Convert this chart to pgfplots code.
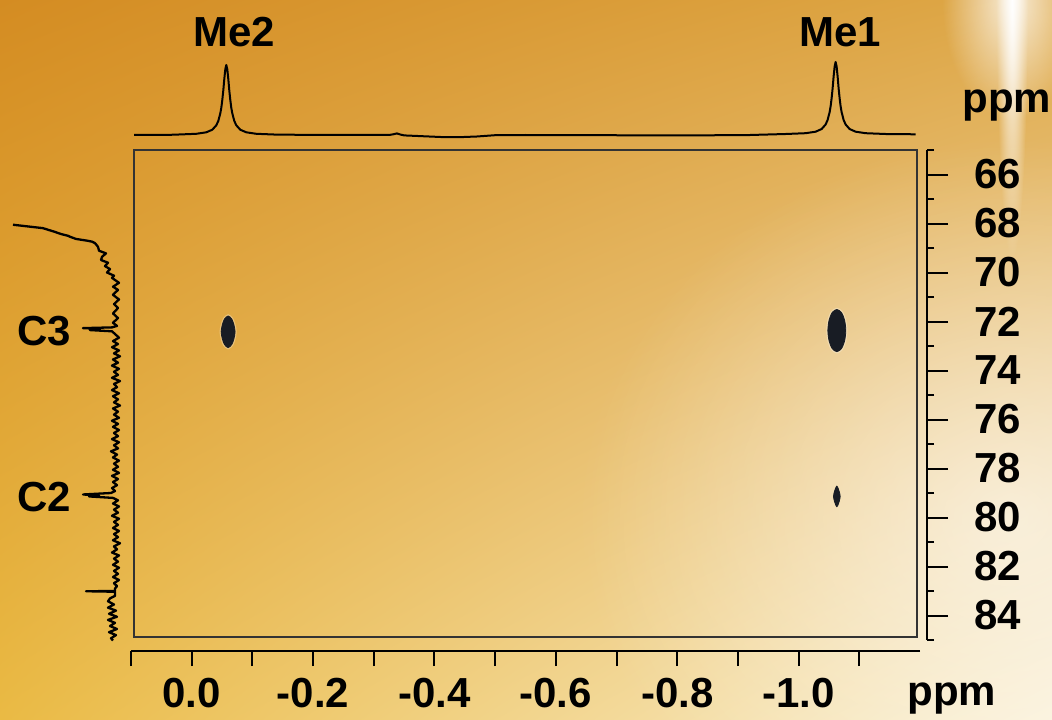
\documentclass[border=0pt]{standalone}
\usepackage{pgfplots}
\pgfplotsset{compat=1.18}
\usepackage{fontspec}
\setmainfont{Liberation Sans}
\usetikzlibrary{fadings,shadings}
\tikzfading[name=glow, inner color=transparent!0, outer color=transparent!100]
\newcommand\lab{\fontsize{21}{25}\selectfont\bfseries}
\definecolor{bgUL}{RGB}{212,140,34}
\definecolor{bgUR}{RGB}{222,168,72}
\definecolor{bgLL}{RGB}{234,186,68}
\definecolor{bgLR}{RGB}{250,240,214}
\definecolor{spot}{RGB}{24,28,36}

\pgfplotsset{
  every axis/.append style={scale only axis, clip=false, anchor=south west},
}

\begin{document}
\begin{tikzpicture}[x=0.5pt,y=0.5pt]
\useasboundingbox (0,0) rectangle (1052,719);
% golden backdrop
\begin{scope}
\clip (0,0) rectangle (1052,719);
\shade[upper left=bgUL, upper right=bgUR, lower left=bgLL, lower right=bgLR] (0,0) rectangle (1052,719);
\fill[white, opacity=0.55, path fading=glow] (1010,200) ellipse [x radius=430, y radius=380];
\fill[white, opacity=0.8, path fading=glow] (1012,719) ellipse [x radius=70, y radius=120];
\fill[white, path fading=glow] (1012,719) ellipse [x radius=16, y radius=260];
\end{scope}

% 2D correlation plane
\begin{axis}[at={(67pt,41pt)}, width=391.35pt, height=243.5pt,
  xmin=-1.1946, xmax=0.0951, x dir=reverse,
  ymin=65, ymax=84.878, y dir=reverse,
  xtick=\empty, ytick=\empty,
  axis line style={line width=0.8pt, draw=black!80}]
% Me2 / C3
\addplot[draw=white, opacity=0.3, line width=1.6pt, smooth cycle] coordinates {
 (-0.0600,71.774) (-0.0540,71.900) (-0.0505,72.129) (-0.0485,72.420) (-0.0505,72.711) (-0.0540,72.940)
 (-0.0600,73.066) (-0.0660,72.940) (-0.0695,72.711) (-0.0715,72.420) (-0.0695,72.129) (-0.0660,71.900)};
\addplot[fill=spot, draw=spot, line width=0.4pt, smooth cycle] coordinates {
 (-0.0600,71.774) (-0.0540,71.900) (-0.0505,72.129) (-0.0485,72.420) (-0.0505,72.711) (-0.0540,72.940)
 (-0.0600,73.066) (-0.0660,72.940) (-0.0695,72.711) (-0.0715,72.420) (-0.0695,72.129) (-0.0660,71.900)};
% Me1 / C3
\addplot[draw=white, opacity=0.3, line width=1.6pt, smooth cycle] coordinates {
 (-1.0630,71.51) (-1.0555,71.630) (-1.0503,71.94) (-1.0482,72.37) (-1.0503,72.80) (-1.0555,73.110)
 (-1.0630,73.23) (-1.0705,73.110) (-1.0757,72.80) (-1.0778,72.37) (-1.0757,71.94) (-1.0705,71.630)};
\addplot[fill=spot, draw=spot, line width=0.4pt, smooth cycle] coordinates {
 (-1.0630,71.51) (-1.0555,71.630) (-1.0503,71.94) (-1.0482,72.37) (-1.0503,72.80) (-1.0555,73.110)
 (-1.0630,73.23) (-1.0705,73.110) (-1.0757,72.80) (-1.0778,72.37) (-1.0757,71.94) (-1.0705,71.630)};
% Me1 / C2
\addplot[fill=spot, draw=spot, line width=0.4pt, smooth cycle] coordinates {
 (-1.0630,78.72) (-1.0608,78.812) (-1.0589,78.951) (-1.0575,79.14) (-1.0589,79.329) (-1.0608,79.468)
 (-1.0630,79.56) (-1.0652,79.468) (-1.0671,79.329) (-1.0685,79.14) (-1.0671,78.951) (-1.0652,78.812)};
\end{axis}

% 1H projection
\begin{axis}[at={(67pt,289.5pt)}, width=391.35pt, height=42.5pt,
  xmin=-1.1946, xmax=0.0951, x dir=reverse, ymin=0, ymax=85, hide axis]
\addplot[black, line width=1pt, line join=round] coordinates {
 (0.095,5.0) (0.040,5.1) (0.0253,5.4) (-0.0076,6.2) (-0.0241,7.7) (-0.0340,10.3) (-0.0405,14.7)
 (-0.0438,19.0) (-0.0471,26.6) (-0.0488,32.3) (-0.0504,40.0) (-0.0521,49.8) (-0.0537,61.0)
 (-0.0554,70.9) (-0.0570,75.0) (-0.0586,70.9) (-0.0603,61.0) (-0.0619,49.8) (-0.0636,40.0)
 (-0.0652,32.3) (-0.0669,26.6) (-0.0702,19.0) (-0.0735,14.7) (-0.0800,10.3) (-0.0899,7.7)
 (-0.1064,6.2) (-0.1393,5.4) (-0.20,5.1) (-0.28,5.0) (-0.325,5.0) (-0.333,5.8) (-0.338,6.6)
 (-0.343,5.6) (-0.350,4.6) (-0.38,3.8) (-0.41,3.0) (-0.44,2.8) (-0.47,3.5) (-0.50,4.8)
 (-0.55,5.0) (-0.65,4.9) (-0.75,4.6) (-0.85,4.7) (-0.92,5.0) (-0.9787,6.0) (-1.0116,6.8)
 (-1.0281,8.3) (-1.0380,11.0) (-1.0445,15.5) (-1.0478,20.0) (-1.0511,27.8) (-1.0528,33.8)
 (-1.0544,41.75) (-1.0561,51.9) (-1.0577,63.5) (-1.0594,73.7) (-1.0610,78.0) (-1.0626,73.7)
 (-1.0643,63.5) (-1.0659,51.9) (-1.0676,41.75) (-1.0692,33.8) (-1.0709,27.8) (-1.0742,20.0)
 (-1.0775,15.5) (-1.0840,11.0) (-1.0939,8.3) (-1.1104,6.8) (-1.1433,6.0) (-1.193,5.7)};
\end{axis}

% 13C projection
\begin{axis}[at={(2.5pt,41pt)}, width=60pt, height=243.5pt,
  xmin=0, xmax=120, x dir=reverse,
  ymin=65, ymax=84.878, y dir=reverse, hide axis]
\addplot[black, line width=1.15pt, line join=round] coordinates {
 (112,68.05) (82,68.19) (75,68.28) (71,68.33) (64,68.43) (57,68.50) (55,68.54) (49,68.63)
 (38,68.70) (33,68.74) (30,68.80) (27,68.95) (26,69.11) (19,69.22) (23,69.36) (24,69.49)
 (17,69.60) (20,69.74) (15,69.86) (18,70.00) (11,70.13) (13,70.22) (6,70.42) (12,70.58)
 (7,70.71) (12,70.91) (6,71.10) (11,71.29) (7,71.45) (12,71.67) (7,71.86) (12,72.05)
 (8,72.18) (13,72.24) (42,72.27) (25,72.30) (35,72.35) (13,72.40) (10,72.51)
 (6,72.66) (12,72.80) (7,72.92) (13,73.05) (6,73.18) (11,73.30) (5,73.42) (12,73.55)
 (7,73.68) (13,73.80) (6,73.93) (11,74.05) (7,74.18) (13,74.30) (5,74.43) (11,74.55)
 (8,74.68) (13,74.80) (6,74.93) (12,75.05) (7,75.18) (11,75.30) (5,75.43) (12,75.55)
 (7,75.68) (11,75.80) (6,75.93) (13,76.05) (7,76.18) (12,76.30) (6,76.43) (11,76.55)
 (7,76.68) (13,76.80) (6,76.93) (11,77.05) (7,77.18) (14,77.30) (8,77.43) (12,77.55)
 (6,77.68) (11,77.80) (7,77.93) (12,78.05) (6,78.18) (13,78.30) (7,78.43) (12,78.55)
 (8,78.68) (13,78.80) (10,78.92) (14,79.00) (42,79.06) (26,79.10) (36,79.14) (12,79.20)
 (7,79.30) (12,79.43) (6,79.55) (11,79.68) (7,79.80) (13,79.93) (6,80.05) (11,80.18)
 (7,80.30) (12,80.43) (6,80.55) (11,80.68) (7,80.80) (12,80.93) (5,81.05) (11,81.18)
 (8,81.30) (13,81.43) (6,81.55) (11,81.68) (7,81.80) (12,81.93) (6,82.05) (11,82.18)
 (7,82.30) (12,82.43) (6,82.55) (11,82.68) (8,82.80) (10,82.90) (10,83.00) (39,83.01)
 (10,83.03) (10,83.20) (15,83.30) (17,83.42) (11,83.55) (17,83.68) (9,83.80) (16,83.93)
 (8,84.05) (17,84.18) (10,84.30) (15,84.43) (8,84.55) (16,84.68) (9,84.80) (14,84.93) (12,85.02)};
\end{axis}

% 1H scale
\begin{axis}[at={(65.5pt,34pt)}, width=394.5pt, height=10pt,
  xmin=-1.2, xmax=0.1, x dir=reverse, ymin=0, ymax=1,
  axis x line*=bottom, axis y line=none,
  axis line style={-}, x axis line style={-, line width=1.1pt, black},
  xtick={0.1,0,-0.1,-0.2,-0.3,-0.4,-0.5,-0.6,-0.7,-0.8,-0.9,-1.0,-1.1},
  xticklabels={,0.0,,-0.2,,-0.4,,-0.6,,-0.8,,-1.0,},
  tick align=outside, major tick length=7.5pt,
  every tick/.style={black, line width=1pt},
  xticklabel style={font=\lab, inner sep=0pt, yshift=-6pt}]
\end{axis}

% 13C scale
\begin{axis}[at={(463.5pt,39.5pt)}, anchor=south east, width=10pt, height=245pt,
  ymin=65, ymax=85, y dir=reverse, xmin=0, xmax=1,
  axis y line*=right, axis x line=none,
  axis line style={-}, y axis line style={-, line width=1.1pt, black},
  ytick={66,68,70,72,74,76,78,80,82,84},
  yticklabels={66,68,70,72,74,76,78,80,82,84},
  minor ytick={65,67,69,71,73,75,77,79,81,83,85},
  tick align=outside, major tick length=10.5pt, minor tick length=3.5pt,
  every tick/.style={black, line width=1pt},
  yticklabel style={font=\lab, inner sep=0pt, anchor=west, xshift=13pt}]
\end{axis}

\node[font=\lab, anchor=base] at (234,672) {Me2};
\node[font=\lab, anchor=base] at (840,672) {Me1};
\node[font=\lab, anchor=base west, inner sep=0pt] at (17,374) {C3};
\node[font=\lab, anchor=base west, inner sep=0pt] at (17,208) {C2};
\node[font=\lab, anchor=base west, inner sep=0pt] at (962,606) {ppm};
\node[font=\lab, anchor=base west, inner sep=0pt] at (907,14) {ppm};
\end{tikzpicture}
\end{document}
